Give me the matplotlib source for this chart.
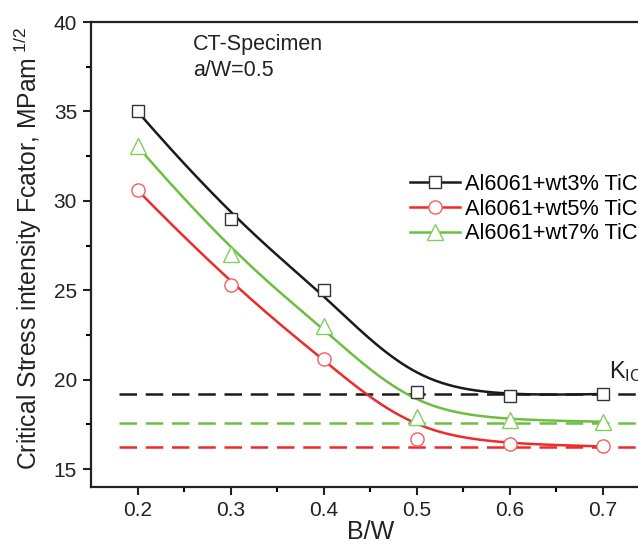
import numpy as np
import matplotlib
matplotlib.use("Agg")
import matplotlib.pyplot as plt

plt.rcParams['font.family'] = ['Liberation Sans', 'DejaVu Sans']
plt.rcParams['mathtext.fontset'] = 'custom'
plt.rcParams['mathtext.rm'] = 'Liberation Sans'
plt.rcParams['mathtext.it'] = 'Liberation Sans:italic'

bw = [0.2, 0.3, 0.4, 0.5, 0.6, 0.7]
k_3 = [35.0, 29.0, 25.0, 19.3, 19.1, 19.2]
k_5 = [30.6, 25.3, 21.15, 16.7, 16.4, 16.27]
k_7 = [33.05, 27.05, 23.0, 17.93, 17.75, 17.65]
kic_3 = 19.2
kic_5 = 16.25
kic_7 = 17.6
labels = ["Al6061+wt3% TiC", "Al6061+wt5% TiC", "Al6061+wt7% TiC"]


def bspline(xs, ys, n=300, k=3):
    P = np.column_stack([xs, ys]).astype(float)
    m = len(P)
    knots = np.concatenate([np.zeros(k), np.arange(m - k + 1), np.full(k, m - k)]).astype(float)
    ts = np.linspace(0, m - k, n)
    ts[-1] -= 1e-9

    def basis(i, p, t):
        if p == 0:
            return np.where((knots[i] <= t) & (t < knots[i + 1]), 1.0, 0.0)
        a = 0.0
        d1 = knots[i + p] - knots[i]
        d2 = knots[i + p + 1] - knots[i + 1]
        if d1 > 0:
            a = a + (t - knots[i]) / d1 * basis(i, p - 1, t)
        if d2 > 0:
            a = a + (knots[i + p + 1] - t) / d2 * basis(i + 1, p - 1, t)
        return a

    B = np.array([basis(i, k, ts) for i in range(m)])
    C = B.T @ P
    return C[:, 0], C[:, 1]


fig = plt.figure(figsize=(6.38, 5.45), dpi=100)
ax = fig.add_axes([0.1426, 0.1064, 1.018 - 0.1426, 0.9596 - 0.1064])

black = '#1a1a1a'
red = '#ee2a2a'
green = '#6cbf3f'
series = [(k_3, kic_3, black, 's', '#333333', 8.5),
          (k_5, kic_5, red, 'o', '#f06060', 9.5),
          (k_7, kic_7, green, '^', '#7fcf5a', 11)]

for (vals, kic, col, mk, mec, ms), lab in zip(series, labels):
    ax.plot([0.18, 0.75], [kic, kic], color=col, lw=1.8, dashes=(7, 3.5))
for (vals, kic, col, mk, mec, ms), lab in zip(series, labels):
    sx, sy = bspline(bw, vals)
    ax.plot(sx, sy, color=col, lw=1.8, zorder=3)
    ax.plot(bw, vals, ls='none', marker=mk, ms=ms, mfc='white', mec=mec, mew=1.0, zorder=4)

handles = []
for (vals, kic, col, mk, mec, ms), lab in zip(series, labels):
    h, = ax.plot([], [], color=col, lw=1.8, marker=mk, ms=ms, mfc='white', mec=mec, mew=1.0, label=lab)
    handles.append(h)
ax.legend(handles=handles, loc='upper left', bbox_to_anchor=(0.571, 0.674), frameon=False,
          fontsize=15.7, handlelength=2.3, handletextpad=0.23, labelspacing=0.18,
          borderpad=0, borderaxespad=0, numpoints=1)

ax.set_xlim(0.15, 0.75)
ax.set_ylim(14, 40)
ax.set_xticks([0.2, 0.3, 0.4, 0.5, 0.6, 0.7])
ax.set_xticks([0.25, 0.35, 0.45, 0.55, 0.65], minor=True)
ax.set_yticks([15, 20, 25, 30, 35, 40])
ax.set_yticks([17.5, 22.5, 27.5, 32.5, 37.5], minor=True)
ax.tick_params(which='major', direction='out', length=6, width=1.5, labelsize=15, colors='#222222', pad=4)
ax.tick_params(which='minor', direction='out', length=3.5, width=1.5)
ax.tick_params(top=False, right=False)
for s in ax.spines.values():
    s.set_linewidth(1.6)
    s.set_color('#222222')

ax.set_xlabel('B/W', fontsize=18, color='#222222', labelpad=0)
ax.set_ylabel(r'Critical Stress intensity Fcator, MPam$^{\ 1/2}$', fontsize=17.8, color='#222222')
ax.yaxis.set_label_coords(-0.084, 0.512)

ax.text(0.183, 0.975, 'CT-Specimen', transform=ax.transAxes, fontsize=15.5, color='#222222', va='top')
ax.text(0.183, 0.918, 'a/W=0.5', transform=ax.transAxes, fontsize=15.5, color='#222222', va='top')
ax.text(0.7063, 20.1, r'K$_{\mathregular{IC}}$', fontsize=17, color='#222222', va='baseline', ha='left')

fig.savefig('out.png', dpi=100)
